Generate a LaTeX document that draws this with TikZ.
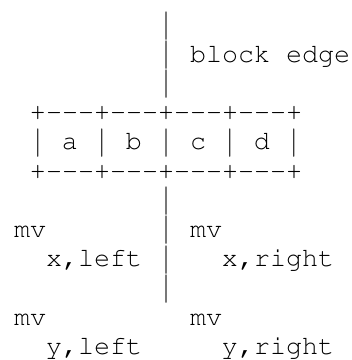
\documentclass[tikz,border=0pt]{standalone}
\usepackage[T1]{fontenc}
\usepackage{graphicx}
\begin{document}
\begin{tikzpicture}[x=1pt,y=1pt,
  txt/.style={anchor=base west, inner sep=0pt, outer sep=0pt,
    font=\fontfamily{pcr}\fontsize{26.67pt}{29.25pt}\selectfont, text=black}]
\useasboundingbox (0,0) rectangle (352,-360);
% cell (c,r): x = 14 + 16 c, baseline y = -(32.85 + 29.25 r)
\newcommand\cellat[4]{\node[txt] (#1) at ({14+16*#2},{-(32.85+29.25*#3)}) {#4};}
% a '|' character, stretched to the tall bar of the reference font;
% its box is trimmed to the ink (7pt below to 21.6pt above the baseline)
\newcommand\barat[3]{\node[txt] (#1) at ({14+16*#2},{-(32.85+29.25*#3)}) {\raisebox{-2.3pt}[21.6pt][7pt]{\resizebox*{\width}{38.5pt}{|}}};}
\barat{bar0}{9}{0}
\barat{bar1}{9}{1}
\cellat{edge}{11}{1}{block edge}
\barat{bar2}{9}{2}
\cellat{top}{1}{3}{+-{}-{}-+-{}-{}-+-{}-{}-+-{}-{}-+}
\barat{cbar1}{1}{4}
\cellat{ca}{3}{4}{a}
\barat{cbar2}{5}{4}
\cellat{cb}{7}{4}{b}
\barat{cbar3}{9}{4}
\cellat{cc}{11}{4}{c}
\barat{cbar4}{13}{4}
\cellat{cd}{15}{4}{d}
\barat{cbar5}{17}{4}
\cellat{bottom}{1}{5}{+-{}-{}-+-{}-{}-+-{}-{}-+-{}-{}-+}
\barat{bar6}{9}{6}
\cellat{mvxl}{0}{7}{mv}
\barat{bar7}{9}{7}
\cellat{mvxr}{11}{7}{mv}
\cellat{xl}{2}{8}{x,left}
\barat{bar8}{9}{8}
\cellat{xr}{13}{8}{x,right}
\barat{bar9}{9}{9}
\cellat{mvyl}{0}{10}{mv}
\cellat{mvyr}{11}{10}{mv}
\cellat{yl}{2}{11}{y,left}
\cellat{yr}{13}{11}{y,right}
\end{tikzpicture}
\end{document}
